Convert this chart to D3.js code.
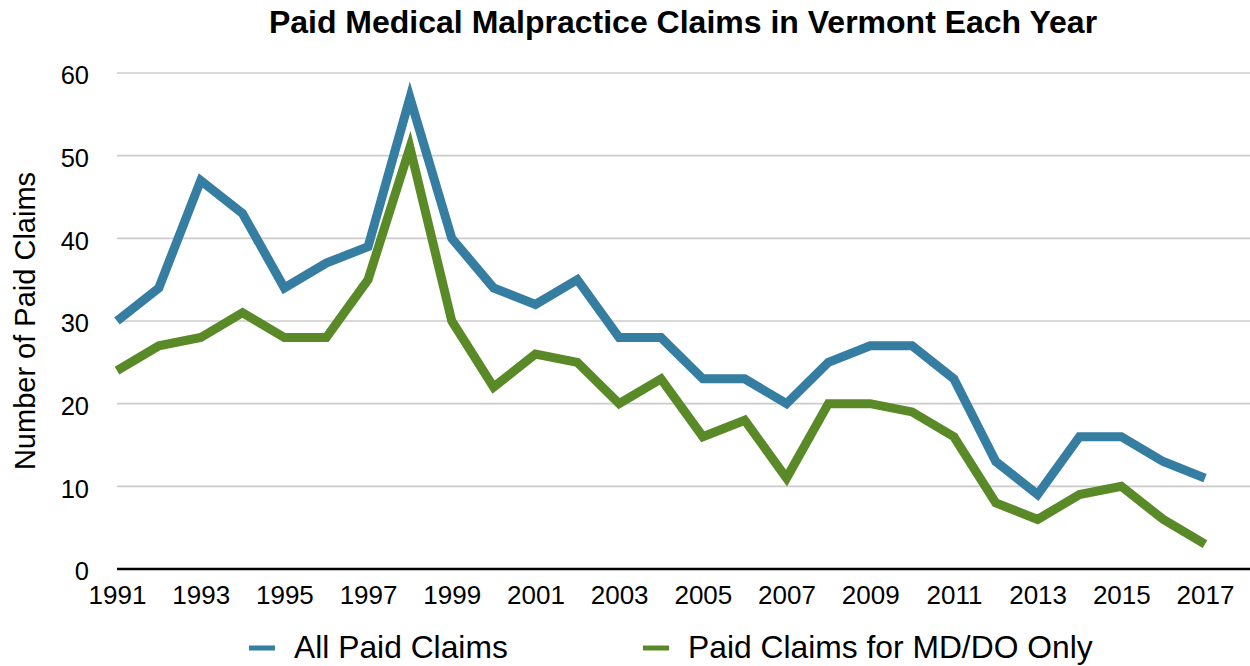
<!DOCTYPE html>
<html>
<head>
<meta charset="utf-8">
<script src="https://cdn.jsdelivr.net/npm/d3@7"></script>
<style>
  html, body { margin: 0; padding: 0; background: #fff; }
  svg { display: block; font-family: "Liberation Sans", Arial, Helvetica, sans-serif; }
</style>
</head>
<body>
<svg id="chart" width="1250" height="666"></svg>
<script>
const years = [1991,1992,1993,1994,1995,1996,1997,1998,1999,2000,2001,2002,2003,2004,2005,2006,2007,2008,2009,2010,2011,2012,2013,2014,2015,2016,2017];
const allPaidClaims = [30,34,47,43,34,37,39,57,40,34,32,35,28,28,23,23,20,25,27,27,23,13,9,16,16,13,11];
const mdDoClaims = [24,27,28,31,28,28,35,51,30,22,26,25,20,23,16,18,11,20,20,19,16,8,6,9,10,6,3];
const seriesNames = ["All Paid Claims", "Paid Claims for MD/DO Only"];
const seriesColors = ["#357ea1", "#5a8a27"];
const yTicks = [0,10,20,30,40,50,60];
const xTickYears = [1991,1993,1995,1997,1999,2001,2003,2005,2007,2009,2011,2013,2015,2017];
const titleText = "Paid Medical Malpractice Claims in Vermont Each Year";
const yAxisTitle = "Number of Paid Claims";

const svg = d3.select("#chart");
const plotLeft = 117, plotRight = 1250, plotTop = 73, plotBottom = 569;

const x = d3.scaleLinear().domain([1991, 2017]).range([117, 1205]);
const y = d3.scaleLinear().domain([0, 60]).range([plotBottom, plotTop]);

// Title
svg.append("text")
  .attr("x", 683).attr("y", 33)
  .attr("text-anchor", "middle")
  .attr("font-size", 32).attr("font-weight", "bold")
  .attr("fill", "#000")
  .text(titleText);

// Gridlines
svg.append("g")
  .selectAll("line")
  .data(yTicks.filter(d => d !== 0))
  .join("line")
  .attr("x1", plotLeft).attr("x2", plotRight)
  .attr("y1", d => y(d)).attr("y2", d => y(d))
  .attr("stroke", "#cccccc").attr("stroke-width", 1.6);

// Y axis labels
const yAxis = d3.axisLeft(y).tickValues(yTicks).tickSize(0).tickPadding(0).tickFormat(d3.format("d"));
const gy = svg.append("g").attr("transform", `translate(89,0)`).call(yAxis);
gy.select(".domain").remove();
gy.selectAll("text")
  .attr("font-size", 25.5).attr("font-family", "Liberation Sans, Arial, sans-serif")
  .attr("fill", "#000").attr("dy", "0.42em");

// X axis labels
const xAxis = d3.axisBottom(x).tickValues(xTickYears).tickSize(0).tickPadding(0).tickFormat(d3.format("d"));
const gx = svg.append("g").attr("transform", `translate(0,${plotBottom})`).call(xAxis);
gx.select(".domain").remove();
gx.selectAll("text")
  .attr("font-size", 26).attr("font-family", "Liberation Sans, Arial, sans-serif")
  .attr("fill", "#000").attr("dy", null).attr("y", 35);

// Baseline
svg.append("line")
  .attr("x1", plotLeft).attr("x2", plotRight)
  .attr("y1", y(0)).attr("y2", y(0))
  .attr("stroke", "#000").attr("stroke-width", 2.5);

// Y axis title
svg.append("text")
  .attr("transform", `translate(35,${321}) rotate(-90)`)
  .attr("text-anchor", "middle")
  .attr("font-size", 29)
  .attr("fill", "#000")
  .text(yAxisTitle);

// Lines
const line = d3.line().x((d, i) => x(years[i])).y(d => y(d));
[allPaidClaims, mdDoClaims].forEach((vals, k) => {
  svg.append("path")
    .datum(vals)
    .attr("d", line)
    .attr("fill", "none")
    .attr("stroke", seriesColors[k])
    .attr("stroke-width", 9)
    .attr("stroke-linejoin", "miter")
    .attr("stroke-linecap", "butt");
});

// Legend
const legendPos = [{dx: 249, tx: 294}, {dx: 643, tx: 688}];
seriesNames.forEach((name, k) => {
  const g = svg.append("g");
  g.append("line")
    .attr("x1", legendPos[k].dx).attr("x2", legendPos[k].dx + 26)
    .attr("y1", 648).attr("y2", 648)
    .attr("stroke", seriesColors[k]).attr("stroke-width", 5);
  g.append("text")
    .attr("x", legendPos[k].tx).attr("y", 658)
    .attr("font-size", 31.8).attr("fill", "#000")
    .text(name);
});
</script>
</body>
</html>
